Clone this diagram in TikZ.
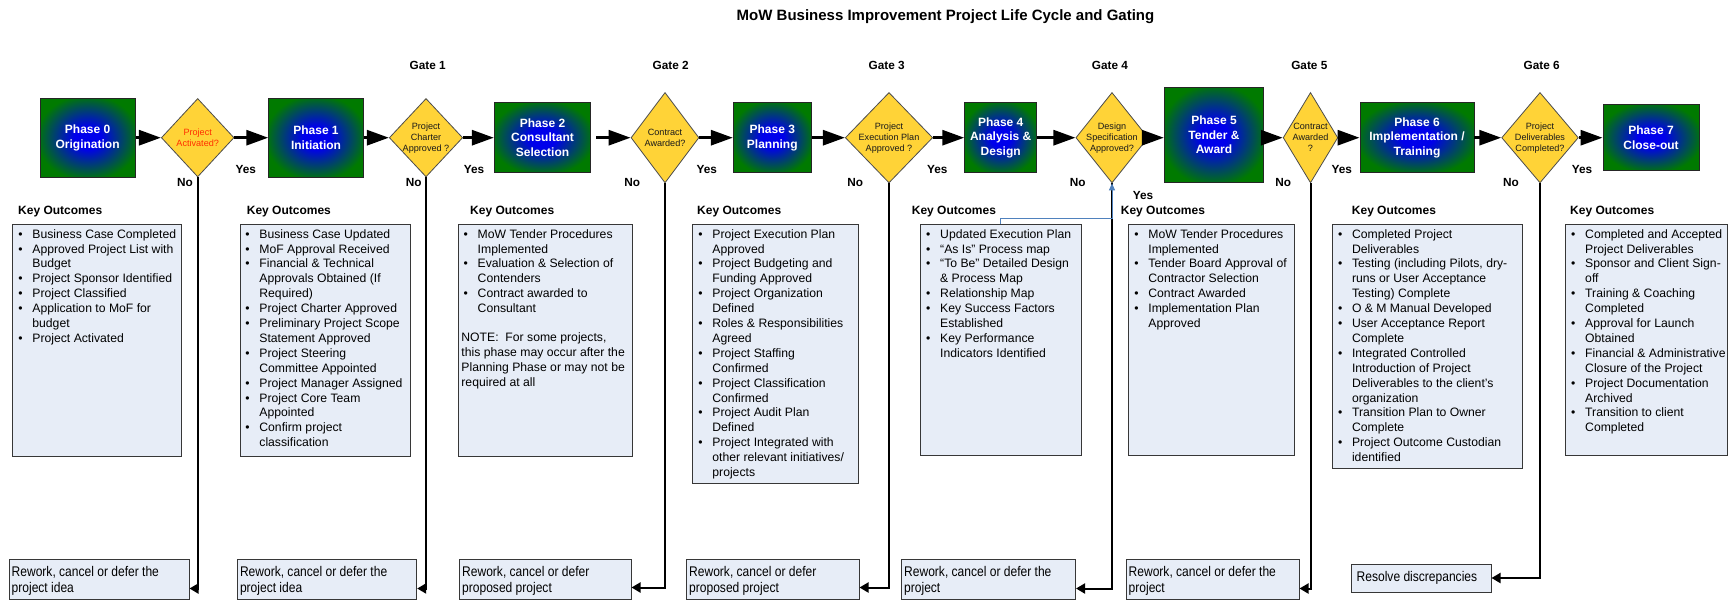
\documentclass[tikz,border=0pt]{standalone}
\usepackage{fontspec}
\setmainfont{Liberation Sans}
\newfontfamily\narrowfont{Liberation Sans}[FakeStretch=0.86]
\usetikzlibrary{arrows.meta,shapes.geometric,calc}
\definecolor{pgreen}{RGB}{0,122,0}
\definecolor{pblue}{RGB}{0,0,235}
\definecolor{gold}{RGB}{255,211,55}
\definecolor{kfill}{RGB}{231,237,247}
\definecolor{kdraw}{RGB}{55,55,55}
\definecolor{bluearr}{RGB}{79,129,189}
\definecolor{redtxt}{RGB}{255,45,0}
\pgfdeclareradialshading{phaseglow}{\pgfpoint{0bp}{0bp}}{color(0bp)=(pblue); color(7bp)=(pblue); color(27bp)=(pgreen); color(50bp)=(pgreen)}
\newcommand\kb{\makebox[14pt][l]{\textbullet}}
\newcommand\ki{\hspace*{14pt}}
\newcommand\kn{\hspace*{-2.3pt}}
\tikzset{
  phase/.style={draw=black!85, line width=0.9pt, shading=phaseglow, text=white,
    font=\fontsize{12}{14.5}\selectfont\bfseries, align=center, inner sep=0pt},
  gatebox/.style={shape=diamond, draw=black!70, fill=gold, line width=0.8pt, inner sep=0pt},
  dtext/.style={font=\fontsize{9.1}{11}\selectfont, align=center, text=black!90, inner sep=0pt},
  flow/.style={line width=3pt, -{Triangle[length=22pt,width=15pt]}},
  nopath/.style={line width=2pt, -{Triangle[length=9pt,width=10pt]}},
  bluepath/.style={line width=1pt, draw=bluearr, -{Triangle[length=7pt,width=6pt]}},
  keybox/.style={draw=kdraw, fill=kfill, line width=1pt, inner sep=0pt},
  keytext/.style={font=\fontsize{12.2}{14.9}\selectfont, align=left, inner sep=0pt, anchor=north west},
  keyhead/.style={font=\fontsize{12}{14}\selectfont\bfseries, anchor=base west, inner sep=0pt},
  gatelbl/.style={font=\fontsize{11.8}{14}\selectfont\bfseries, anchor=base, inner sep=0pt},
  yn/.style={font=\fontsize{11.8}{14}\selectfont\bfseries, anchor=base, inner sep=0pt},
  rbox/.style={draw=kdraw, fill=kfill, line width=1pt, inner sep=0pt},
  rtext/.style={font=\narrowfont\fontsize{14}{16}\selectfont, align=left, anchor=west, inner sep=0pt},
}
\begin{document}
\begin{tikzpicture}[x=1pt,y=-1pt]
\useasboundingbox (0,0) rectangle (1730,600);
\fill[white] (0,0) rectangle (1730,600);

% title and gates
\node[font=\fontsize{15}{18}\selectfont\bfseries, anchor=base, inner sep=0pt] (title) at (945.5,20.4) {MoW Business Improvement Project Life Cycle and Gating};
\node[gatelbl] (g1) at (427.7,69.2) {Gate 1};
\node[gatelbl] (g2) at (670.7,69.2) {Gate 2};
\node[gatelbl] (g3) at (886.7,69.2) {Gate 3};
\node[gatelbl] (g4) at (1110,69.2) {Gate 4};
\node[gatelbl] (g5) at (1309.3,69.2) {Gate 5};
\node[gatelbl] (g6) at (1541.7,69.2) {Gate 6};

% phases
\node[phase, minimum width=95.3pt, minimum height=79.3pt] (p0) at (87.65,137.7) {Phase 0\\Origination};
\node[phase, minimum width=94.6pt, minimum height=79.3pt] (p1) at (316,137.7) {Phase 1\\Initiation};
\node[phase, minimum width=96.4pt, minimum height=69.6pt] (p2) at (542.5,137.7) {Phase 2\\Consultant\\Selection};
\node[phase, minimum width=78pt, minimum height=70pt] (p3) at (772.3,137.7) {Phase 3\\Planning};
\node[phase, minimum width=72pt, minimum height=70pt] (p4) at (1000.7,137.7) {Phase 4\\Analysis \&\\Design};
\node[phase, minimum width=99.4pt, minimum height=95pt] (p5) at (1214,135.2) {Phase 5\\Tender \&\\Award};
\node[phase, minimum width=114pt, minimum height=70pt] (p6) at (1417,137.7) {Phase 6\\Implementation /\\Training};
\node[phase, minimum width=96pt, minimum height=66pt] (p7) at (1651,137.7) {Phase 7\\Close-out};

% gates (diamonds)
\node[gatebox, minimum width=72.7pt, minimum height=78.4pt] (d1) at (197.7,137.7) {};
\node[gatebox, minimum width=73.4pt, minimum height=78.4pt] (d2) at (426,137.7) {};
\node[gatebox, minimum width=68pt, minimum height=90.4pt] (d3) at (665,137.7) {};
\node[gatebox, minimum width=87.4pt, minimum height=90.4pt] (d4) at (889,137.7) {};
\node[gatebox, minimum width=72.3pt, minimum height=90.4pt] (d5) at (1112,137.7) {};
\node[gatebox, minimum width=54.7pt, minimum height=90.4pt] (d6) at (1310.5,137.7) {};
\node[gatebox, minimum width=76.7pt, minimum height=90.4pt] (d7) at (1540,137.7) {};
\node[dtext, text=redtxt] (d1t) at (d1) {Project\\Activated?};
\node[dtext] (d2t) at (d2) {Project\\Charter\\Approved ?};
\node[dtext] (d3t) at (d3) {Contract\\Awarded?};
\node[dtext] (d4t) at (d4) {Project\\Execution Plan\\Approved ?};
\node[dtext] (d5t) at (d5) {Design\\Specification\\Approved?};
\node[dtext] (d6t) at (d6) {Contract\\Awarded\\?};
\node[dtext] (d7t) at (d7) {Project\\Deliverables\\Completed?};

% main flow
\draw[flow] (p0.east) -- (d1.west);
\draw[flow] (d1.east) -- (p1.west);
\draw[flow] (p1.east) -- (d2.west);
\draw[flow] (d2.east) -- (p2.west);
\draw[flow] ($(p2.east)+(5,0)$) -- (d3.west);
\draw[flow] (d3.east) -- (p3.west);
\draw[flow] (p3.east) -- (d4.west);
\draw[flow] (d4.east) -- (p4.west);
\draw[flow] (p4.east) -- (d5.west);
\draw[flow] (d5.east) -- (d5.east -| p5.west);
\draw[flow] (p5.east |- d6.west) -- (d6.west);
\draw[flow] (d6.east) -- (p6.west);
\draw[flow] (p6.east) -- (d7.west);
\draw[flow] (d7.east) -- (p7.west);

% yes / no
\node[yn] (y1) at (245.7,173.2) {Yes};
\node[yn] (n1) at (185,186.2) {No};
\node[yn] (y2) at (474,173.2) {Yes};
\node[yn] (n2) at (413.7,186.2) {No};
\node[yn] (y3) at (706.7,173.2) {Yes};
\node[yn] (n3) at (632.3,186.2) {No};
\node[yn] (y4) at (937.3,173.2) {Yes};
\node[yn] (n4) at (855.3,186.2) {No};
\node[yn] (y5) at (1143,199.9) {Yes};
\node[yn] (n5) at (1077.7,186.2) {No};
\node[yn] (y6) at (1341.7,173.2) {Yes};
\node[yn] (n6) at (1283.3,186.2) {No};
\node[yn] (y7) at (1582,173.2) {Yes};
\node[yn] (n7) at (1511,186.2) {No};

% key outcome headings
\node[keyhead] (h0) at (18,214.3) {Key Outcomes};
\node[keyhead] (h1) at (246.7,214.3) {Key Outcomes};
\node[keyhead] (h2) at (470,214.3) {Key Outcomes};
\node[keyhead] (h3) at (697,214.3) {Key Outcomes};
\node[keyhead] (h4) at (911.7,214.3) {Key Outcomes};
\node[keyhead] (h5) at (1120.7,214.3) {Key Outcomes};
\node[keyhead] (h6) at (1351.7,214.3) {Key Outcomes};
\node[keyhead] (h7) at (1570,214.3) {Key Outcomes};

% key outcome boxes
\node[keybox, minimum width=169pt, minimum height=232.7pt] (k0) at (97.2,340.35) {};
\node[keybox, minimum width=170pt, minimum height=232.7pt] (k1) at (325.7,340.35) {};
\node[keybox, minimum width=174pt, minimum height=232pt] (k2) at (545,340) {};
\node[keybox, minimum width=165.6pt, minimum height=259.3pt] (k3) at (775.5,353.65) {};
\node[keybox, minimum width=161.7pt, minimum height=231.7pt] (k4) at (1000.85,339.85) {};
\node[keybox, minimum width=165.6pt, minimum height=231.7pt] (k5) at (1211.5,339.85) {};
\node[keybox, minimum width=190pt, minimum height=244.3pt] (k6) at (1427.3,346.15) {};
\node[keybox, minimum width=162.5pt, minimum height=231.7pt] (k7) at (1646.25,339.85) {};

\node[keytext] (k0t) at ($(k0.north west)+(6,4)$) {\strut\kb Business Case Completed\\
\kb Approved Project List with\\
\ki Budget\\
\kb Project Sponsor Identified\\
\kb Project Classified\\
\kb Application to MoF for\\
\ki budget\\
\kb Project Activated};

\node[keytext] (k1t) at ($(k1.north west)+(5,4)$) {\strut\kb Business Case Updated\\
\kb MoF Approval Received\\
\kb Financial \& Technical\\
\ki Approvals Obtained (If\\
\ki Required)\\
\kb Project Charter Approved\\
\kb Preliminary Project Scope\\
\ki Statement Approved\\
\kb Project Steering\\
\ki Committee Appointed\\
\kb Project Manager Assigned\\
\kb Project Core Team\\
\ki Appointed\\
\kb Confirm project\\
\ki classification};

\node[keytext] (k2t) at ($(k2.north west)+(6,4)$) {\strut\kb MoW Tender Procedures\\
\ki Implemented\\
\kb Evaluation \& Selection of\\
\ki Contenders\\
\kb Contract awarded to\\
\ki Consultant\\[13.8pt]
\kn NOTE:\ \ For some projects,\\
\kn this phase may occur after the\\
\kn Planning Phase or may not be\\
\kn required at all};

\node[keytext] (k3t) at ($(k3.north west)+(6,4)$) {\strut\kb Project Execution Plan\\
\ki Approved\\
\kb Project Budgeting and\\
\ki Funding Approved\\
\kb Project Organization\\
\ki Defined\\
\kb Roles \& Responsibilities\\
\ki Agreed\\
\kb Project Staffing\\
\ki Confirmed\\
\kb Project Classification\\
\ki Confirmed\\
\kb Project Audit Plan\\
\ki Defined\\
\kb Project Integrated with\\
\ki other relevant initiatives/\\
\ki projects};

\node[keytext] (k4t) at ($(k4.north west)+(6.5,4)$) {\strut\kb Updated Execution Plan\\
\kb “As Is” Process map\\
\kb “To Be” Detailed Design\\
\ki \& Process Map\\
\kb Relationship Map\\
\kb Key Success Factors\\
\ki Established\\
\kb Key Performance\\
\ki Indicators Identified};

\node[keytext] (k5t) at ($(k5.north west)+(6,4)$) {\strut\kb MoW Tender Procedures\\
\ki Implemented\\
\kb Tender Board Approval of\\
\ki Contractor Selection\\
\kb Contract Awarded\\
\kb Implementation Plan\\
\ki Approved};

\node[keytext] (k6t) at ($(k6.north west)+(6,4)$) {\strut\kb Completed Project\\
\ki Deliverables\\
\kb Testing (including Pilots, dry-\\
\ki runs or User Acceptance\\
\ki Testing) Complete\\
\kb O \& M Manual Developed\\
\kb User Acceptance Report\\
\ki Complete\\
\kb Integrated Controlled\\
\ki Introduction of Project\\
\ki Deliverables to the client’s\\
\ki organization\\
\kb Transition Plan to Owner\\
\ki Complete\\
\kb Project Outcome Custodian\\
\ki identified};

\node[keytext] (k7t) at ($(k7.north west)+(6.5,4)$) {\strut\kb Completed and Accepted\\
\ki Project Deliverables\\
\kb Sponsor and Client Sign-\\
\ki off\\
\kb Training \& Coaching\\
\ki Completed\\
\kb Approval for Launch\\
\ki Obtained\\
\kb Financial \& Administrative\\
\ki Closure of the Project\\
\kb Project Documentation\\
\ki Archived\\
\kb Transition to client\\
\ki Completed};

% rework boxes
\node[rbox, minimum width=180pt, minimum height=40pt] (r0) at (99,579) {};
\node[rbox, minimum width=179.4pt, minimum height=40pt] (r1) at (327,579) {};
\node[rbox, minimum width=171.5pt, minimum height=40pt] (r2) at (545.25,579) {};
\node[rbox, minimum width=172.5pt, minimum height=40pt] (r3) at (772.75,579) {};
\node[rbox, minimum width=174pt, minimum height=40pt] (r4) at (988.5,579) {};
\node[rbox, minimum width=173pt, minimum height=40pt] (r5) at (1212.5,579) {};
\node[rbox, minimum width=140pt, minimum height=28pt] (r6) at (1421,578) {};
\node[rtext] (r0t) at ($(r0.west)+(3,2)$) {Rework, cancel or defer the\\project idea};
\node[rtext] (r1t) at ($(r1.west)+(3,2)$) {Rework, cancel or defer the\\project idea};
\node[rtext] (r2t) at ($(r2.west)+(3,2)$) {Rework, cancel or defer\\proposed project};
\node[rtext] (r3t) at ($(r3.west)+(3,2)$) {Rework, cancel or defer\\proposed project};
\node[rtext] (r4t) at ($(r4.west)+(3,2)$) {Rework, cancel or defer the\\project};
\node[rtext] (r5t) at ($(r5.west)+(3,2)$) {Rework, cancel or defer the\\project};
\node[rtext] (r6t) at ($(r6.west)+(6,0)$) {Resolve discrepancies};

% no paths
\draw[nopath] (d1.south) |- ($(r0.south east)+(0,-11)$);
\draw[nopath] (d2.south) |- ($(r1.south east)+(0,-11)$);
\draw[nopath] (d3.south) |- ($(r2.south east)+(0,-12)$);
\draw[nopath] (d4.south) |- ($(r3.south east)+(0,-12)$);
\draw[nopath] (d5.south) |- ($(r4.south east)+(0,-11)$);
\draw[nopath] (d6.south) |- ($(r5.south east)+(0,-11)$);
\draw[nopath] (d7.south) |- (r6.east);

% blue feedback
\draw[bluepath] (k4.north) -- ++(0,-4.7) -| (d5.south);
\end{tikzpicture}
\end{document}
